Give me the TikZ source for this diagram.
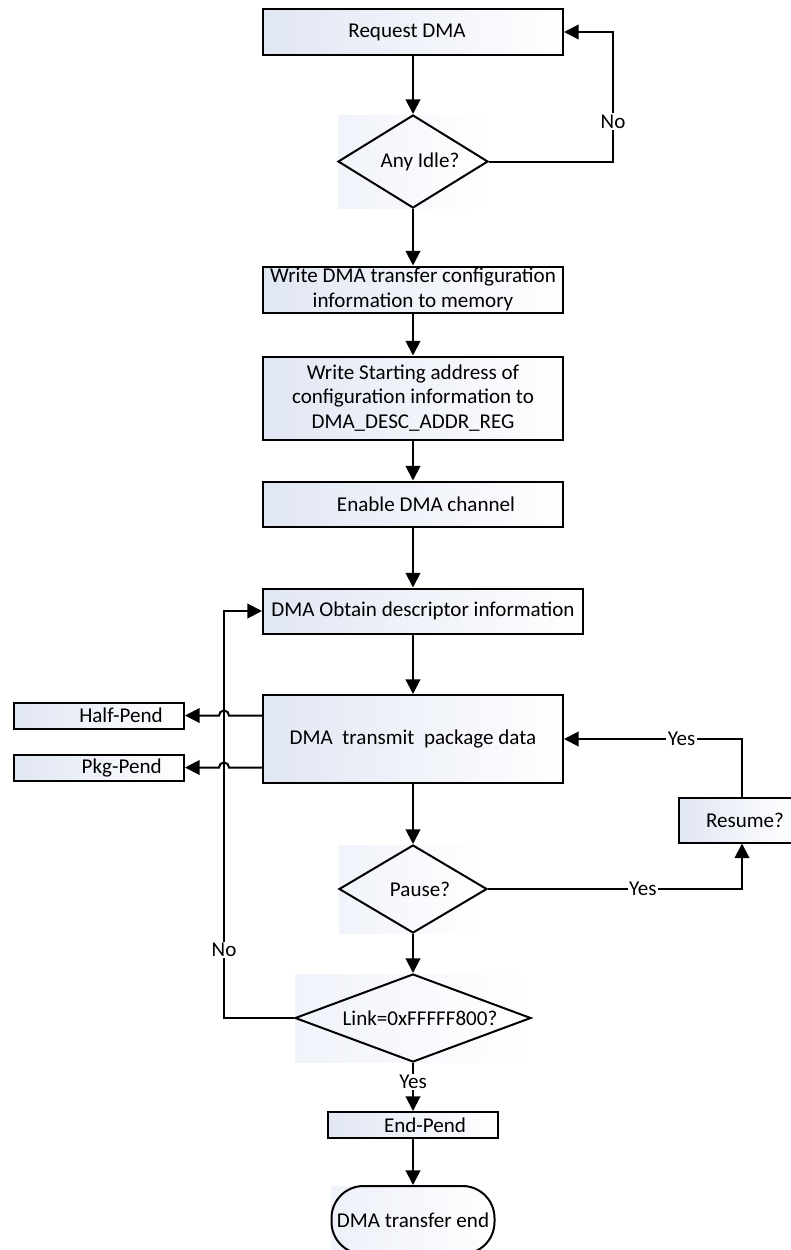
\documentclass[tikz,border=0pt]{standalone}
\usepackage{fontspec}
\setmainfont{Carlito}
\usetikzlibrary{shapes.geometric,arrows.meta,calc}
\definecolor{boxblue}{RGB}{224,230,243}
\definecolor{diabg}{RGB}{240,243,250}
\begin{document}
\begin{tikzpicture}[x=0.75pt,y=-0.75pt,
  font=\fontsize{15.8}{18.5}\selectfont,
  line width=1.5pt,
  box/.style={draw=black,rectangle,left color=boxblue,right color=white,inner sep=0pt,align=center,minimum width=225pt},
  dia/.style={draw=black,diamond,inner sep=0pt},
  arr/.style={-{Triangle[length=11pt,width=11pt]}},
  lbl/.style={fill=white,inner sep=1pt}]
\useasboundingbox (0,0) rectangle (791,1250);

% faint backgrounds behind decisions and terminal
\shade[left color=diabg,right color=white] (338,115) rectangle (488,208);
\shade[left color=diabg,right color=white] (339,845) rectangle (487,933);
\shade[left color=diabg,right color=white] (295,974) rectangle (532,1062);
\shade[left color=diabg,right color=white] (331,1186) rectangle (495,1250);

% nodes
\node[box,minimum height=34.5pt] (req) at (413,32) {Request DMA\hspace*{9pt}};
\node[dia,aspect=1.61,minimum width=112.5pt,minimum height=69.75pt] (idle) at (413,161.5) {\hspace*{10.5pt}Any Idle?};
\node[box,minimum height=34.5pt] (wcfg) at (413,289.5) {Write DMA transfer configuration\\information to memory};
\node[box,minimum height=62.25pt] (wst) at (413,398) {Write Starting address of\\configuration information to\\DMA\_DESC\_ADDR\_REG};
\node[box,minimum height=33.75pt] (en) at (413,504) {\hspace*{19.5pt}Enable DMA channel};
\node[box,minimum width=240pt,minimum height=33.75pt] (obt) at (423,611) {DMA Obtain descriptor information};
\node[box,minimum height=66pt] (tx) at (413,739) {DMA\ \ transmit\ \ package data};
\node[box,minimum width=127.5pt,minimum height=19.5pt] (hp) at (99,715.5) {\hspace*{33pt}Half-Pend};
\node[box,minimum width=127.5pt,minimum height=19.5pt] (pp) at (99,767.5) {\hspace*{34pt}Pkg-Pend};
\node[box,minimum width=87pt,minimum height=33.75pt] (res) at (737,820) {\hspace*{12pt}Resume?};
\node[dia,aspect=1.68,minimum width=111pt,minimum height=66pt] (pause) at (413,889) {\hspace*{10.5pt}Pause?};
\node[dia,aspect=2.68,minimum width=177pt,minimum height=66pt] (link) at (413,1018) {\hspace*{10.5pt}Link=0xFFFFF800?};
\node[box,minimum width=127.5pt,minimum height=19.5pt] (endp) at (413,1125) {\hspace*{18pt}End-Pend};
\node[draw=black,rectangle,rounded corners=24pt,left color=boxblue!60!white,right color=white,inner sep=0pt,minimum width=122.25pt,minimum height=51pt] (term) at (413,1220) {DMA transfer end};

% helper columns
\coordinate (rx) at (613,0);
\coordinate (rc) at (742,0);
\coordinate (lx) at (224,0);
\coordinate (h1) at ($(hp.east -| lx)+(3.75pt,0)$);
\coordinate (h2) at ($(pp.east -| lx)+(3.75pt,0)$);

% connectors
\draw[arr] (req) -- (idle);
\draw[arr] (idle.east) -- (idle.east -| rx) -- node[lbl,pos=0.31]{No} (req.east -| rx) -- (req.east);
\draw[arr] (idle) -- (wcfg);
\draw[arr] (wcfg) -- (wst);
\draw[arr] (wst) -- (en);
\draw[arr] (en.south) -- (en.south |- obt.north);
\draw[arr] (tx.north |- obt.south) -- (tx.north);
\draw[arr] (tx) -- (pause);
\draw[arr] (pause) -- (link);
\draw[arr] (pause.east) -- node[lbl,pos=0.61]{Yes} (pause.east -| rc) -- (res.south -| rc);
\draw[arr] (res.north -| rc) -- (tx.east -| rc) -- node[lbl,pos=0.34]{Yes} (tx.east);
\draw[arr] (link.west) -- (link.west -| lx) -- node[lbl,pos=0.167]{No} (obt.west -| lx) -- (obt.west);
\draw[arr] (tx.west |- hp.east) -- (h1) arc[start angle=0,end angle=180,radius=3.75pt] -- (hp.east);
\draw[arr] (tx.west |- pp.east) -- (h2) arc[start angle=0,end angle=180,radius=3.75pt] -- (pp.east);
\draw[arr] (link.south) -- node[lbl,pos=0.39]{Yes} (endp.north);
\draw[arr] (endp) -- (term);
\end{tikzpicture}
\end{document}
